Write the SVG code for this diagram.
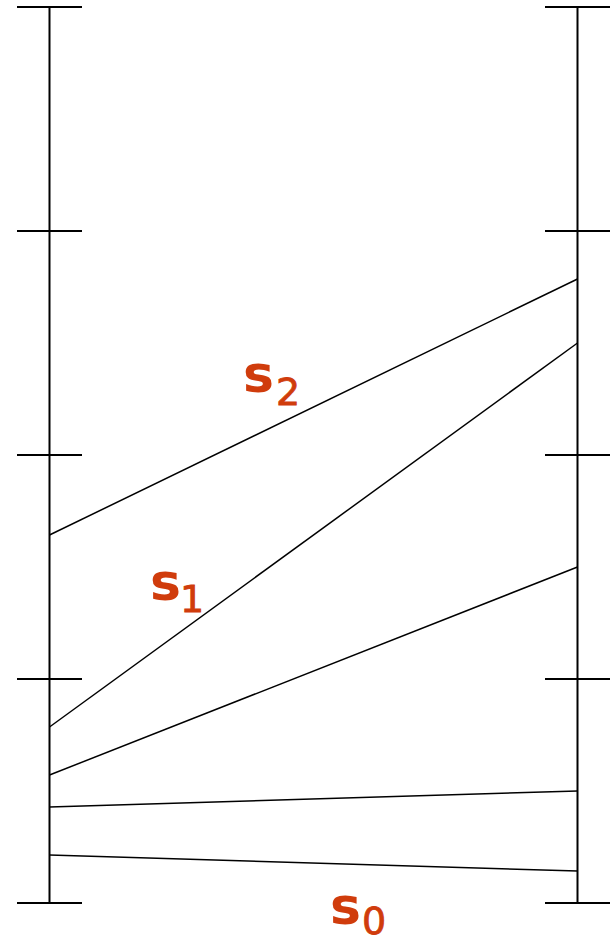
<svg xmlns="http://www.w3.org/2000/svg" width="614" height="944" viewBox="0 0 614 944">
<style>
.ax{stroke:#000;stroke-width:2;fill:none}
.ln{stroke:#000;stroke-width:1.5;fill:none}
.lbl{font-family:"DejaVu Sans",sans-serif;fill:#d03c0c}
.s{font-size:52px;font-weight:bold}
.sub{font-size:38px;stroke:#d03c0c;stroke-width:0.8}
</style>
<rect width="614" height="944" fill="#fff"/>
<g id="left-axis" class="ax">
<line x1="49.5" y1="7" x2="49.5" y2="903"/>
<line x1="17" y1="7" x2="82" y2="7"/>
<line x1="17" y1="231" x2="82" y2="231"/>
<line x1="17" y1="455" x2="82" y2="455"/>
<line x1="17" y1="679" x2="82" y2="679"/>
<line x1="17" y1="903" x2="82" y2="903"/>
</g>
<g id="right-axis" class="ax">
<line x1="577.5" y1="7" x2="577.5" y2="903"/>
<line x1="545" y1="7" x2="610" y2="7"/>
<line x1="545" y1="231" x2="610" y2="231"/>
<line x1="545" y1="455" x2="610" y2="455"/>
<line x1="545" y1="679" x2="610" y2="679"/>
<line x1="545" y1="903" x2="610" y2="903"/>
</g>
<g id="connectors" class="ln">
<line x1="49.5" y1="535" x2="577.5" y2="279"/>
<line x1="49.5" y1="727" x2="577.5" y2="343"/>
<line x1="49.5" y1="775" x2="577.5" y2="567"/>
<line x1="49.5" y1="807" x2="577.5" y2="791"/>
<line x1="49.5" y1="855" x2="577.5" y2="871"/>
</g>
<g id="label-s2" class="lbl"><text x="243" y="392" class="s">s</text><text x="276" y="405" class="sub">2</text></g>
<g id="label-s1" class="lbl"><text x="150" y="600" class="s">s</text><text x="180" y="612" class="sub">1</text></g>
<g id="label-s0" class="lbl"><text x="330" y="924" class="s">s</text><text x="362" y="934" class="sub">0</text></g>
</svg>
